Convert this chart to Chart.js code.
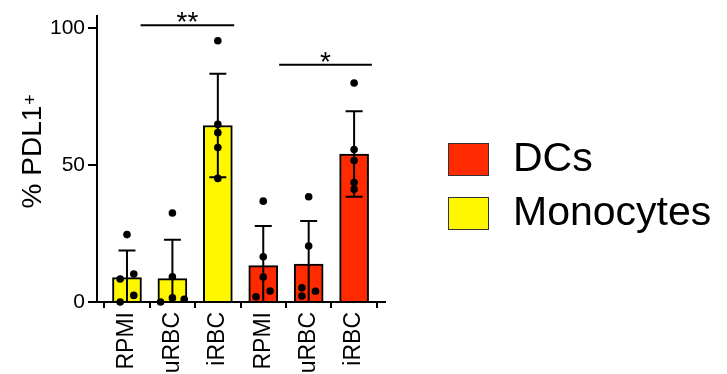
<!DOCTYPE html>
<html>
<head>
<meta charset="utf-8">
<script src="https://cdn.jsdelivr.net/npm/chart.js@4.4.1/dist/chart.umd.min.js"></script>
<style>
  html, body { margin: 0; padding: 0; background: #fff; }
  #wrap { width: 727px; height: 374px; }
</style>
</head>
<body>
<div id="wrap"><canvas id="myChart" width="727" height="374"></canvas></div>
<script>
// x categories (monocytes first, then DCs)
const categories = ['RPMI', 'uRBC', 'iRBC', 'RPMI', 'uRBC', 'iRBC'];
const yTicks = [0, 50, 100];
const yTitle = '% PDL1';
const yTitleSup = '+';

// bar heights (mean) and SD
const monoMean = [8.9, 8.5, 64.4];
const monoSd = [9.9, 14.2, 18.9];
const dcMean = [13.3, 13.8, 54.0];
const dcSd = [14.4, 15.8, 15.6];

// single donors, one array per bar
const monoRPMI = [24.6, 10.2, 8.4, 2.4, 0];
const monoURBC = [32.5, 9.2, 1.5, 0, 1.0];
const monoIRBC = [95.3, 64.8, 61.8, 56.4, 45.1];
const dcRPMI = [36.8, 16.5, 9.1, 4.0, 1.9];
const dcURBC = [38.4, 20.4, 5.2, 3.9, 2.2];
const dcIRBC = [79.9, 55.6, 51.6, 43.6, 41.1];
// side shift of each dot (in bar units) so overlapping dots are visible
const jitRPMI = [0, 0.15, -0.15, 0.15, -0.15];
const jitURBC = [0, 0, 0, -0.26, 0.26];
const jitDcRPMI = [0, 0, 0, 0.15, -0.16];
const jitDcURBC = [0, 0, -0.15, 0.15, -0.15];
const jitNone = [0, 0, 0, 0, 0];

// significance bars: x from/to, y level, stars
const sigFrom = [0.30, 3.35];
const sigTo = [2.36, 5.39];
const sigY = [101, 86.6];
const sigText = ['**', '*'];

const RED = '#ff2a00';
const YELLOW = '#fff700';
const FONT = '"Liberation Sans", Arial, sans-serif';

Chart.defaults.font.family = FONT;
Chart.defaults.color = '#000';

function dots(values, jit, pos) {
  return values.map((v, i) => ({ x: pos + jit[i], y: v }));
}

const allDots = []
  .concat(dots(monoRPMI, jitRPMI, 0))
  .concat(dots(monoURBC, jitURBC, 1))
  .concat(dots(monoIRBC, jitNone, 2))
  .concat(dots(dcRPMI, jitDcRPMI, 3))
  .concat(dots(dcURBC, jitDcURBC, 4))
  .concat(dots(dcIRBC, jitNone, 5));

const errorBars = {
  id: 'errorBars',
  afterDatasetsDraw(chart) {
    const ctx = chart.ctx;
    const y = chart.scales.y;
    ctx.save();
    ctx.strokeStyle = '#000';
    ctx.lineWidth = 2;
    chart.data.datasets.forEach((ds, di) => {
      if (!ds.sd) return;
      const meta = chart.getDatasetMeta(di);
      meta.data.forEach((bar, i) => {
        const m = ds.data[i].y;
        const hi = m + ds.sd[i];
        const lo = m - ds.sd[i];
        const yHi = y.getPixelForValue(hi);
        const yLo = y.getPixelForValue(Math.max(lo, 0));
        ctx.beginPath();
        ctx.moveTo(bar.x, yHi);
        ctx.lineTo(bar.x, yLo);
        ctx.moveTo(bar.x - 8.5, yHi);
        ctx.lineTo(bar.x + 8.5, yHi);
        if (lo > 0) {
          ctx.moveTo(bar.x - 8.5, yLo);
          ctx.lineTo(bar.x + 8.5, yLo);
        }
        ctx.stroke();
      });
    });
    ctx.restore();
  }
};

const sigBars = {
  id: 'sigBars',
  afterDraw(chart) {
    const ctx = chart.ctx;
    const x = chart.scales.x, y = chart.scales.y;
    ctx.save();
    ctx.strokeStyle = '#000';
    ctx.fillStyle = '#000';
    ctx.lineWidth = 2;
    ctx.font = '28px ' + FONT;
    ctx.textAlign = 'center';
    ctx.textBaseline = 'alphabetic';
    for (let i = 0; i < sigText.length; i++) {
      const x1 = x.getPixelForValue(sigFrom[i]);
      const x2 = x.getPixelForValue(sigTo[i]);
      const yy = y.getPixelForValue(sigY[i]);
      ctx.beginPath();
      ctx.moveTo(x1, yy);
      ctx.lineTo(x2, yy);
      ctx.stroke();
      ctx.fillText(sigText[i], (x1 + x2) / 2, yy + 6);
    }
    ctx.restore();
  }
};

// y title with a raised "+"
const yTitleDraw = {
  id: 'yTitleDraw',
  afterDraw(chart) {
    const ctx = chart.ctx;
    const area = chart.chartArea;
    ctx.save();
    ctx.fillStyle = '#000';
    ctx.font = '28px ' + FONT;
    const w1 = ctx.measureText(yTitle).width;
    ctx.font = '18px ' + FONT;
    const w2 = ctx.measureText(yTitleSup).width;
    ctx.translate(41, (area.top + area.bottom) / 2 - 7);
    ctx.rotate(-Math.PI / 2);
    ctx.textBaseline = 'alphabetic';
    ctx.textAlign = 'left';
    const start = -(w1 + w2) / 2;
    ctx.font = '28px ' + FONT;
    ctx.fillText(yTitle, start, 0);
    ctx.font = '18px ' + FONT;
    ctx.fillText(yTitleSup, start + w1 + 1, -5);
    ctx.restore();
  }
};

const sideLegend = {
  id: 'sideLegend',
  afterDraw(chart) {
    const ctx = chart.ctx;
    const items = chart.data.datasets.filter(d => d.type === 'bar');
    ctx.save();
    ctx.font = '41px ' + FONT;
    ctx.textBaseline = 'middle';
    ctx.textAlign = 'left';
    items.forEach((d, i) => {
      const top = 143 + i * 54;
      ctx.fillStyle = d.backgroundColor;
      ctx.fillRect(448, top, 41, 33);
      ctx.strokeStyle = '#333';
      ctx.lineWidth = 1;
      ctx.strokeRect(448.5, top + 0.5, 40, 32);
      ctx.fillStyle = '#000';
      ctx.fillText(d.label, 513, top + 17);
    });
    ctx.restore();
  }
};

const ctx = document.getElementById('myChart').getContext('2d');
const myChart = new Chart(ctx, {
  type: 'bar',
  data: {
    datasets: [
      {
        type: 'scatter',
        label: 'donors',
        data: allDots,
        backgroundColor: '#000',
        borderWidth: 0,
        pointRadius: 3.8,
        clip: false,
        order: 1
      },
      {
        type: 'bar',
        label: 'DCs',
        data: dcMean.map((v, i) => ({ x: i + 3, y: v })),
        sd: dcSd,
        backgroundColor: RED,
        borderColor: '#000',
        borderWidth: 2,
        barThickness: 29,
        grouped: false,
        order: 2
      },
      {
        type: 'bar',
        label: 'Monocytes',
        data: monoMean.map((v, i) => ({ x: i, y: v })),
        sd: monoSd,
        backgroundColor: YELLOW,
        borderColor: '#000',
        borderWidth: 2,
        barThickness: 29,
        grouped: false,
        order: 2
      }
    ]
  },
  options: {
    responsive: false,
    animation: false,
    devicePixelRatio: 1,
    layout: { padding: { top: 15, right: 342, left: 0, bottom: 0 } },
    plugins: {
      legend: { display: false },
      tooltip: { enabled: false }
    },
    scales: {
      x: {
        type: 'linear',
        offset: false,
        min: -0.66,
        max: 5.68,
        afterBuildTicks: s => { s.ticks = categories.map((c, i) => ({ value: i })); },
        afterFit: s => { s.height = 72; },
        grid: { drawOnChartArea: false, color: '#000', lineWidth: 2, tickLength: 6 },
        border: { color: '#000', width: 2 },
        ticks: {
          callback: (v, i) => categories[i],
          minRotation: 90,
          maxRotation: 90,
          autoSkip: false,
          padding: 4,
          font: { size: 23 }
        }
      },
      y: {
        min: 0,
        max: 104.5,
        afterBuildTicks: s => { s.ticks = yTicks.map(v => ({ value: v })); },
        afterFit: s => { s.width = 97; },
        grid: { drawOnChartArea: false, color: '#000', lineWidth: 2, tickLength: 9 },
        border: { color: '#000', width: 2 },
        ticks: { padding: 3, font: { size: 21 } }
      }
    }
  },
  plugins: [errorBars, sigBars, yTitleDraw, sideLegend]
});
</script>
</body>
</html>
